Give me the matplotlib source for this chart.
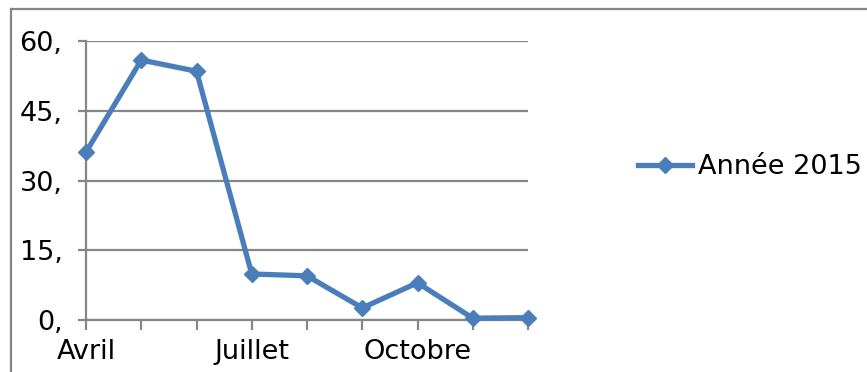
import numpy as np
import matplotlib
matplotlib.use("Agg")
import matplotlib.pyplot as plt
from matplotlib.lines import Line2D

mois = ["Avril", "Mai", "Juin", "Juillet", "Août", "Septembre",
        "Octobre", "Novembre", "Décembre"]
valeurs = [36.1, 55.9, 53.5, 9.9, 9.5, 2.6, 8.0, 0.4, 0.5]
serie = "Année 2015"
y_ticks = [0, 15, 30, 45, 60]
y_labels = ["0,", "15,", "30,", "45,", "60,"]

bleu = "#4a7ebb"
gris = "#868686"
fs = 19.5

plt.rcParams["font.family"] = "DejaVu Sans"
fig = plt.figure(figsize=(8.67, 3.72), dpi=100)
ax = fig.add_axes([86 / 867, 1 - 320 / 372, (528 - 86) / 867, (320 - 41) / 372])

x = np.arange(len(mois))
ax.plot(x, valeurs, color=bleu, lw=3.8, marker="D", ms=8, mec=bleu, mfc=bleu,
        label=serie, zorder=3, clip_on=False)

ax.set_xlim(0, len(mois) - 1)
ax.set_ylim(0, 60)
ax.set_xticks(x)
ax.set_xticklabels([m if i % 3 == 0 else "" for i, m in enumerate(mois)], fontsize=fs)
ax.set_yticks(y_ticks)
ax.set_yticklabels(y_labels, fontsize=fs)
ax.yaxis.grid(True, color=gris, lw=1.6)
ax.set_axisbelow(True)
for s in ["top", "right"]:
    ax.spines[s].set_visible(False)
for s in ["left", "bottom"]:
    ax.spines[s].set_color(gris)
    ax.spines[s].set_linewidth(1.6)
ax.tick_params(axis="x", direction="out", length=7, width=1.6, color=gris, pad=7)
ax.tick_params(axis="y", direction="out", length=6, width=1.6, color=gris, pad=11)

fig.legend(loc="center left", bbox_to_anchor=(638 / 867, 1 - 167 / 372), frameon=False,
           fontsize=fs, handlelength=2.0, handletextpad=0.2, borderpad=0, borderaxespad=0)

# cadre du graphique (partiellement coupé)
fig.add_artist(Line2D([11 / 867, 11 / 867], [0, 1 - 8.5 / 372], color=gris, lw=1.6,
                      transform=fig.transFigure))
fig.add_artist(Line2D([11 / 867, 1], [1 - 8.5 / 372, 1 - 8.5 / 372], color=gris, lw=1.6,
                      transform=fig.transFigure))

fig.savefig("out.png", dpi=100)
